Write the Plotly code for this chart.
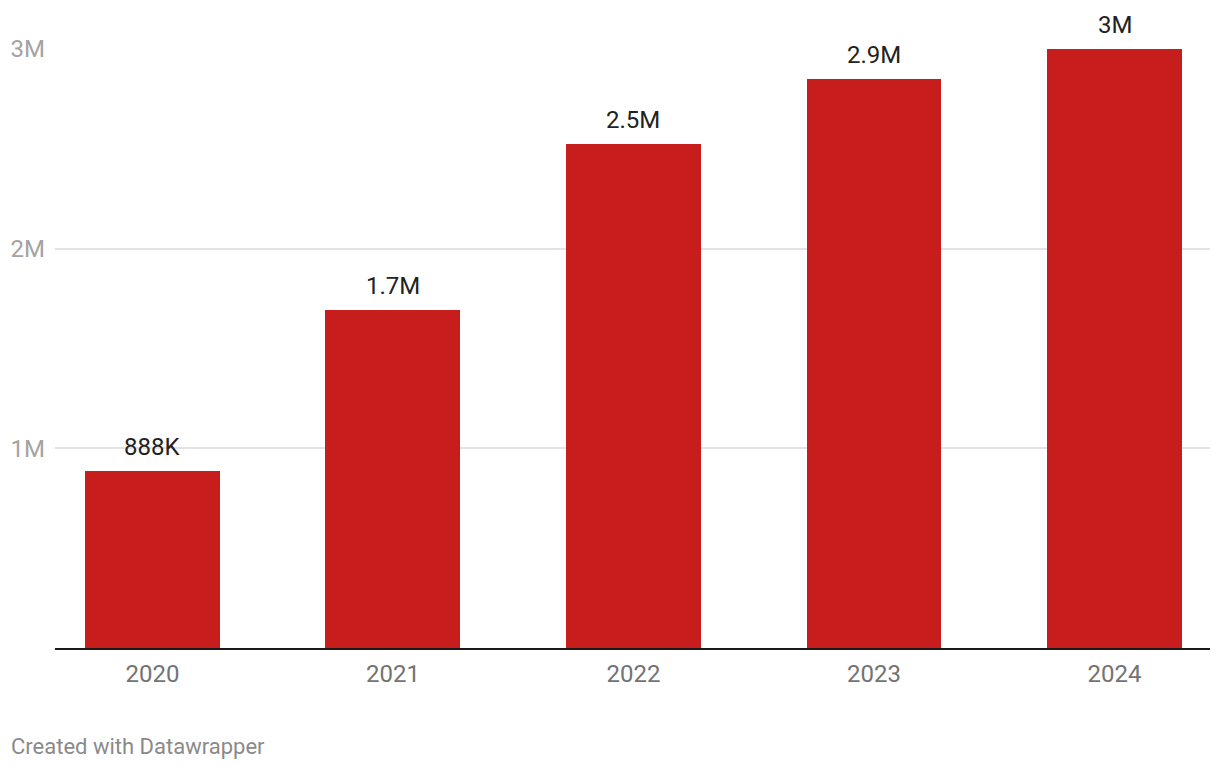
import plotly.graph_objects as go

years = ["2020", "2021", "2022", "2023", "2024"]
values = [888000, 1693000, 2524000, 2850000, 3000000]
value_labels = ["888K", "1.7M", "2.5M", "2.9M", "3M"]
y_tickvals = [1000000, 2000000, 3000000]
y_ticktext = ["1M", "2M", "3M"]

FONT = "Roboto"
W, H = 1220, 770
ML, MR, MT, MB = 55, 10, 49, 122
PW, PH = W - ML - MR, H - MT - MB

fig = go.Figure()
fig.add_trace(go.Bar(
    x=years, y=values, width=0.561,
    marker=dict(color="#c71e1d", line=dict(width=0)),
    hoverinfo="skip",
))

annotations = []
for i, (v, lab) in enumerate(zip(values, value_labels)):
    annotations.append(dict(
        x=i, y=v, xref="x", yref="y", text=lab, showarrow=False,
        yanchor="bottom", xanchor="center", yshift=8,
        font=dict(family=FONT, size=24, color="#222222"),
    ))
annotations.append(dict(
    x=(9 - ML) / PW, y=(H - 746 - MB) / PH, xref="paper", yref="paper",
    text="Created with Datawrapper", showarrow=False,
    xanchor="left", yanchor="middle",
    font=dict(family=FONT, size=22, color="#8a8a8a"),
))

fig.update_layout(
    width=W, height=H,
    margin=dict(l=ML, r=MR, t=MT, b=MB),
    paper_bgcolor="white", plot_bgcolor="white",
    showlegend=False,
    bargap=0,
    xaxis=dict(
        type="category", range=[-0.405, 4.397],
        showgrid=False, showline=True, linecolor="#1a1a1a", linewidth=2,
        ticks="", tickfont=dict(family=FONT, size=24, color="#737373"),
        ticklabelstandoff=3, fixedrange=True,
    ),
    yaxis=dict(
        range=[0, 3000000], tickvals=y_tickvals, ticktext=y_ticktext,
        showgrid=True, gridcolor="#e3e3e3", gridwidth=1.5,
        zeroline=False, showline=False, ticks="",
        tickfont=dict(family=FONT, size=24, color="#a3a3a3"),
        ticklabelstandoff=9, fixedrange=True,
    ),
    annotations=annotations,
)

fig.write_html(
    "out.html",
    config={"displayModeBar": False},
    post_script="document.body.style.margin='0';document.body.style.overflow='hidden';",
)
